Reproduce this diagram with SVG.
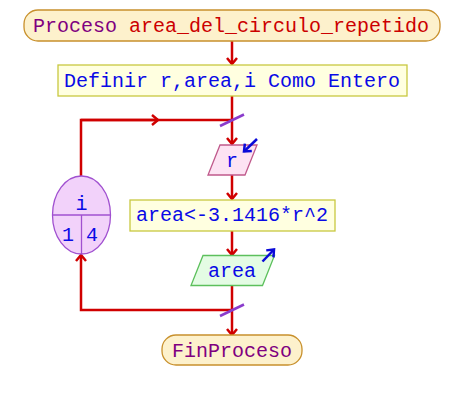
<svg xmlns="http://www.w3.org/2000/svg" width="464" height="400" viewBox="0 0 464 400">
<defs>
<style>
text{font-family:"Liberation Mono","Courier New",monospace;font-size:20px}
.term{fill:#fdf1cc;stroke:#c8902c;stroke-width:1.3}
.def{fill:#ffffe0;stroke:#c8c840;stroke-width:1.3}
.inp{fill:#fde3f3;stroke:#c05a8c;stroke-width:1.3}
.out{fill:#e4fce4;stroke:#5cc05c;stroke-width:1.3}
.loop{fill:#f2d2fa;stroke:#a050d0;stroke-width:1.3}
.blue{fill:#0a0ae6}
.kw{fill:#800080}
.nm{fill:#cc0000}
.flow{fill:none;stroke:#d00000;stroke-width:2.5}
.slash{stroke:#8a3ccc;stroke-width:2.5}
.io{fill:none;stroke:#0a0ad8;stroke-width:2.5}
</style>
<marker id="ah" markerUnits="userSpaceOnUse" markerWidth="14" markerHeight="14" refX="0" refY="0" viewBox="-8 -7 10 14" orient="auto" overflow="visible">
<path d="M-6,-5 L0,0 L-6,5" fill="none" stroke="#d00000" stroke-width="2.5"/>
</marker>
<marker id="bh" markerUnits="userSpaceOnUse" markerWidth="14" markerHeight="14" refX="0" refY="0" viewBox="-8 -7 10 14" orient="auto" overflow="visible">
<path d="M-6,-5 L0,0 L-6,5" fill="none" stroke="#0a0ad8" stroke-width="2.5"/>
</marker>
</defs>
<rect width="464" height="400" fill="#ffffff"/>
<g id="connectors">
<line class="flow" x1="232" y1="41" x2="232" y2="64" marker-end="url(#ah)"/>
<line class="flow" x1="232" y1="96" x2="232" y2="144" marker-end="url(#ah)"/>
<polyline class="flow" points="81,176 81,120 232,120"/>
<line class="flow" x1="81" y1="120" x2="158" y2="120" marker-end="url(#ah)"/>
<line class="flow" x1="232" y1="175" x2="232" y2="199" marker-end="url(#ah)"/>
<line class="flow" x1="232" y1="231" x2="232" y2="255" marker-end="url(#ah)"/>
<line class="flow" x1="232" y1="285" x2="232" y2="335" marker-end="url(#ah)"/>
<polyline class="flow" points="232,310 81,310 81,255" marker-end="url(#ah)"/>
<line class="slash" x1="220" y1="126" x2="244" y2="114.5"/>
<line class="slash" x1="220" y1="316" x2="244" y2="304.5"/>
</g>
<g id="start">
<rect class="term" x="24" y="10" width="416" height="31" rx="14" ry="14"/>
<text x="33" y="32"><tspan class="kw">Proceso</tspan> <tspan class="nm">area_del_circulo_repetido</tspan></text>
</g>
<g id="definir">
<rect class="def" x="58" y="65" width="349" height="31"/>
<text class="blue" x="64" y="87">Definir r,area,i Como Entero</text>
</g>
<g id="leer">
<polygon class="inp" points="220,145 257,145 245,175 208,175"/>
<text class="blue" x="232" y="166.5" text-anchor="middle">r</text>
<line class="io" x1="257" y1="139" x2="244" y2="151.5" marker-end="url(#bh)"/>
</g>
<g id="asignar">
<rect class="def" x="130" y="200" width="205" height="31"/>
<text class="blue" x="136" y="221">area&lt;-3.1416*r^2</text>
</g>
<g id="escribir">
<polygon class="out" points="203,255.5 274.5,255.5 262.5,285.5 191,285.5"/>
<text class="blue" x="232" y="277" text-anchor="middle">area</text>
<line class="io" x1="262.5" y1="261.5" x2="274" y2="249.5" marker-end="url(#bh)"/>
</g>
<g id="para">
<ellipse class="loop" cx="81.5" cy="215" rx="29" ry="39"/>
<line class="loop" x1="52.5" y1="215" x2="110.5" y2="215"/>
<line class="loop" x1="81.5" y1="215" x2="81.5" y2="254"/>
<text class="blue" x="81.5" y="210" text-anchor="middle">i</text>
<text class="blue" x="68" y="241" text-anchor="middle">1</text>
<text class="blue" x="92" y="241" text-anchor="middle">4</text>
</g>
<g id="fin">
<rect class="term" x="162" y="335" width="140" height="30" rx="14" ry="14"/>
<text class="kw" x="232" y="357" text-anchor="middle">FinProceso</text>
</g>
</svg>
